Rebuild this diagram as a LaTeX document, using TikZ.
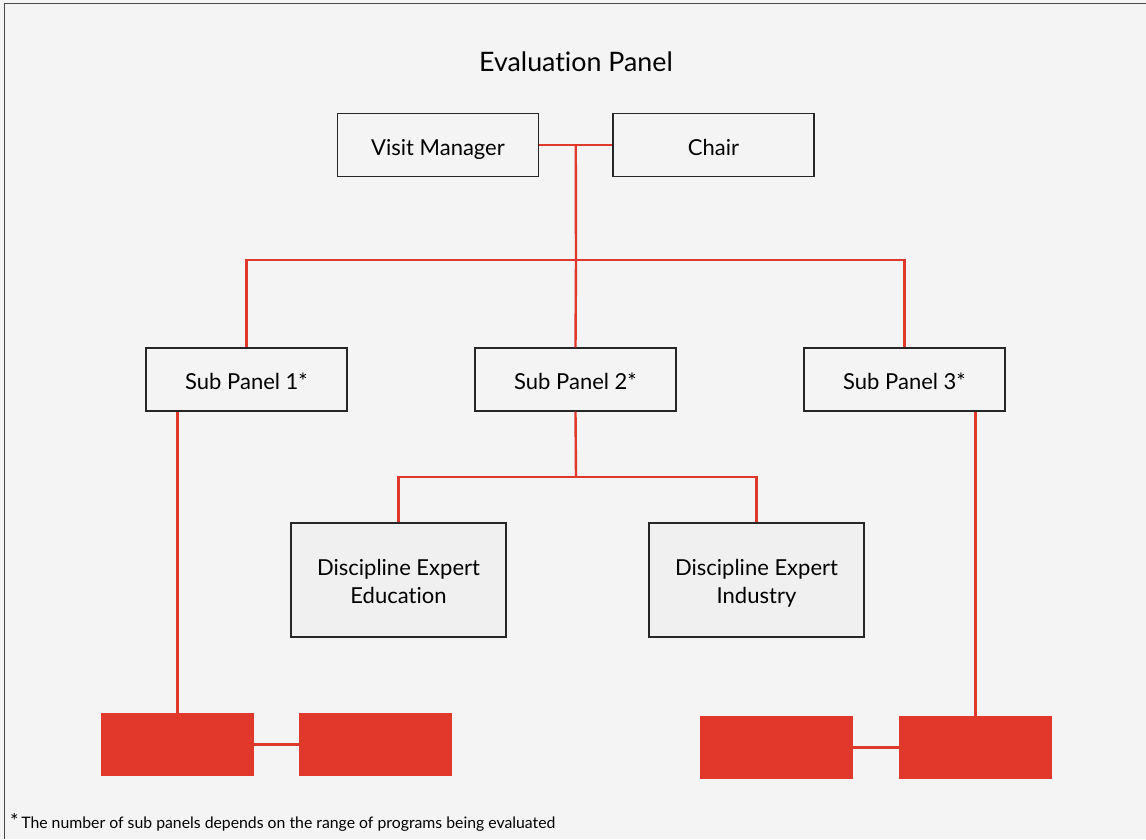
\documentclass[tikz,border=0pt]{standalone}
\usepackage{fontspec}
\setmainfont{Lato}[Ligatures=NoCommon]
\usetikzlibrary{calc}
\definecolor{pagebg}{HTML}{F4F4F4}
\definecolor{linkred}{HTML}{E0382A}
\definecolor{framegrey}{HTML}{4A4A4A}
\definecolor{expertfill}{HTML}{F0F0F0}
\newcommand{\twolines}[2]{\begin{tabular}[t]{@{}c@{}}#1\\#2\end{tabular}}
\begin{document}
\begin{tikzpicture}[x=1pt,y=-1pt,
  box/.style={draw=black!85, line width=1.2pt, fill=pagebg, inner sep=0pt,
    minimum width=201pt, minimum height=63pt,
    text height=20pt, text depth=0pt,
    font=\fontsize{22}{27.3}\selectfont},
  expert/.style={box, fill=expertfill, minimum width=215pt, minimum height=114pt,
    text height=15.5pt, text depth=23.8pt},
  redbox/.style={fill=linkred, inner sep=0pt, minimum width=153pt, minimum height=63pt,
    text height=0pt, text depth=0pt},
  link/.style={draw=linkred, line width=2.4pt},
]
% page and frame
\path[use as bounding box] (0,0) rectangle (1146,839);
\fill[pagebg] (0,0) rectangle (1146,839);
\draw[framegrey, line width=1.2pt] (4.5,839) -- (4.5,3.5) -- (1146,3.5);

% title
\node[font=\fontsize{26.8}{30}\selectfont] (title) at (576,62) {Evaluation Panel};

% top level
\node[box] (vm) at (438,145) {Visit Manager};
\node[box] (chair) at (713.5,145) {Chair};

% sub panels
\node[box] (sp1) at (246.5,379.5) {Sub Panel 1*};
\node[box] (sp2) at (575.5,379.5) {Sub Panel 2*};
\node[box] (sp3) at (904.5,379.5) {Sub Panel 3*};

% discipline experts
\node[expert] (dee) at (398.5,580) {\twolines{Discipline Expert}{Education}};
\node[expert] (dei) at (756.5,580) {\twolines{Discipline Expert}{Industry}};

% red placeholder blocks
\node[redbox] (r1) at (177.5,744.5) {};
\node[redbox] (r2) at (375.5,744.5) {};
\node[redbox] (r3) at (776.5,747.5) {};
\node[redbox] (r4) at (975.5,747.5) {};

% connectors
\coordinate (j0) at ($(vm.east)!0.5!(chair.west)$);
\coordinate (j1) at (576,260);
\coordinate (j2) at (576,477);
\draw[link] (vm.east) -- (chair.west);
\draw[link] (j0) -- (j1);
\draw[link] (sp1.north) -- (sp1.north |- j1) -- (sp3.north |- j1) -- (sp3.north);
\draw[link] (j1) -- (sp2.north);
\draw[link] (sp2.south) -- (j2);
\draw[link] (dee.north) -- (dee.north |- j2) -- (dei.north |- j2) -- (dei.north);
\draw[link] (r1.north |- sp1.south) -- (r1.north);
\draw[link] (r4.north |- sp3.south) -- (r4.north);
\draw[link] (r1.east) -- (r2.west);
\draw[link] (r3.east) -- (r4.west);

% footnote
\node[anchor=base west, inner sep=0pt, font=\fontsize{15.8}{18}\selectfont] (note) at (10,828)
  {{\fontsize{20}{20}\selectfont *}\,The number of sub panels depends on the range of programs being evaluated};
\end{tikzpicture}
\end{document}
